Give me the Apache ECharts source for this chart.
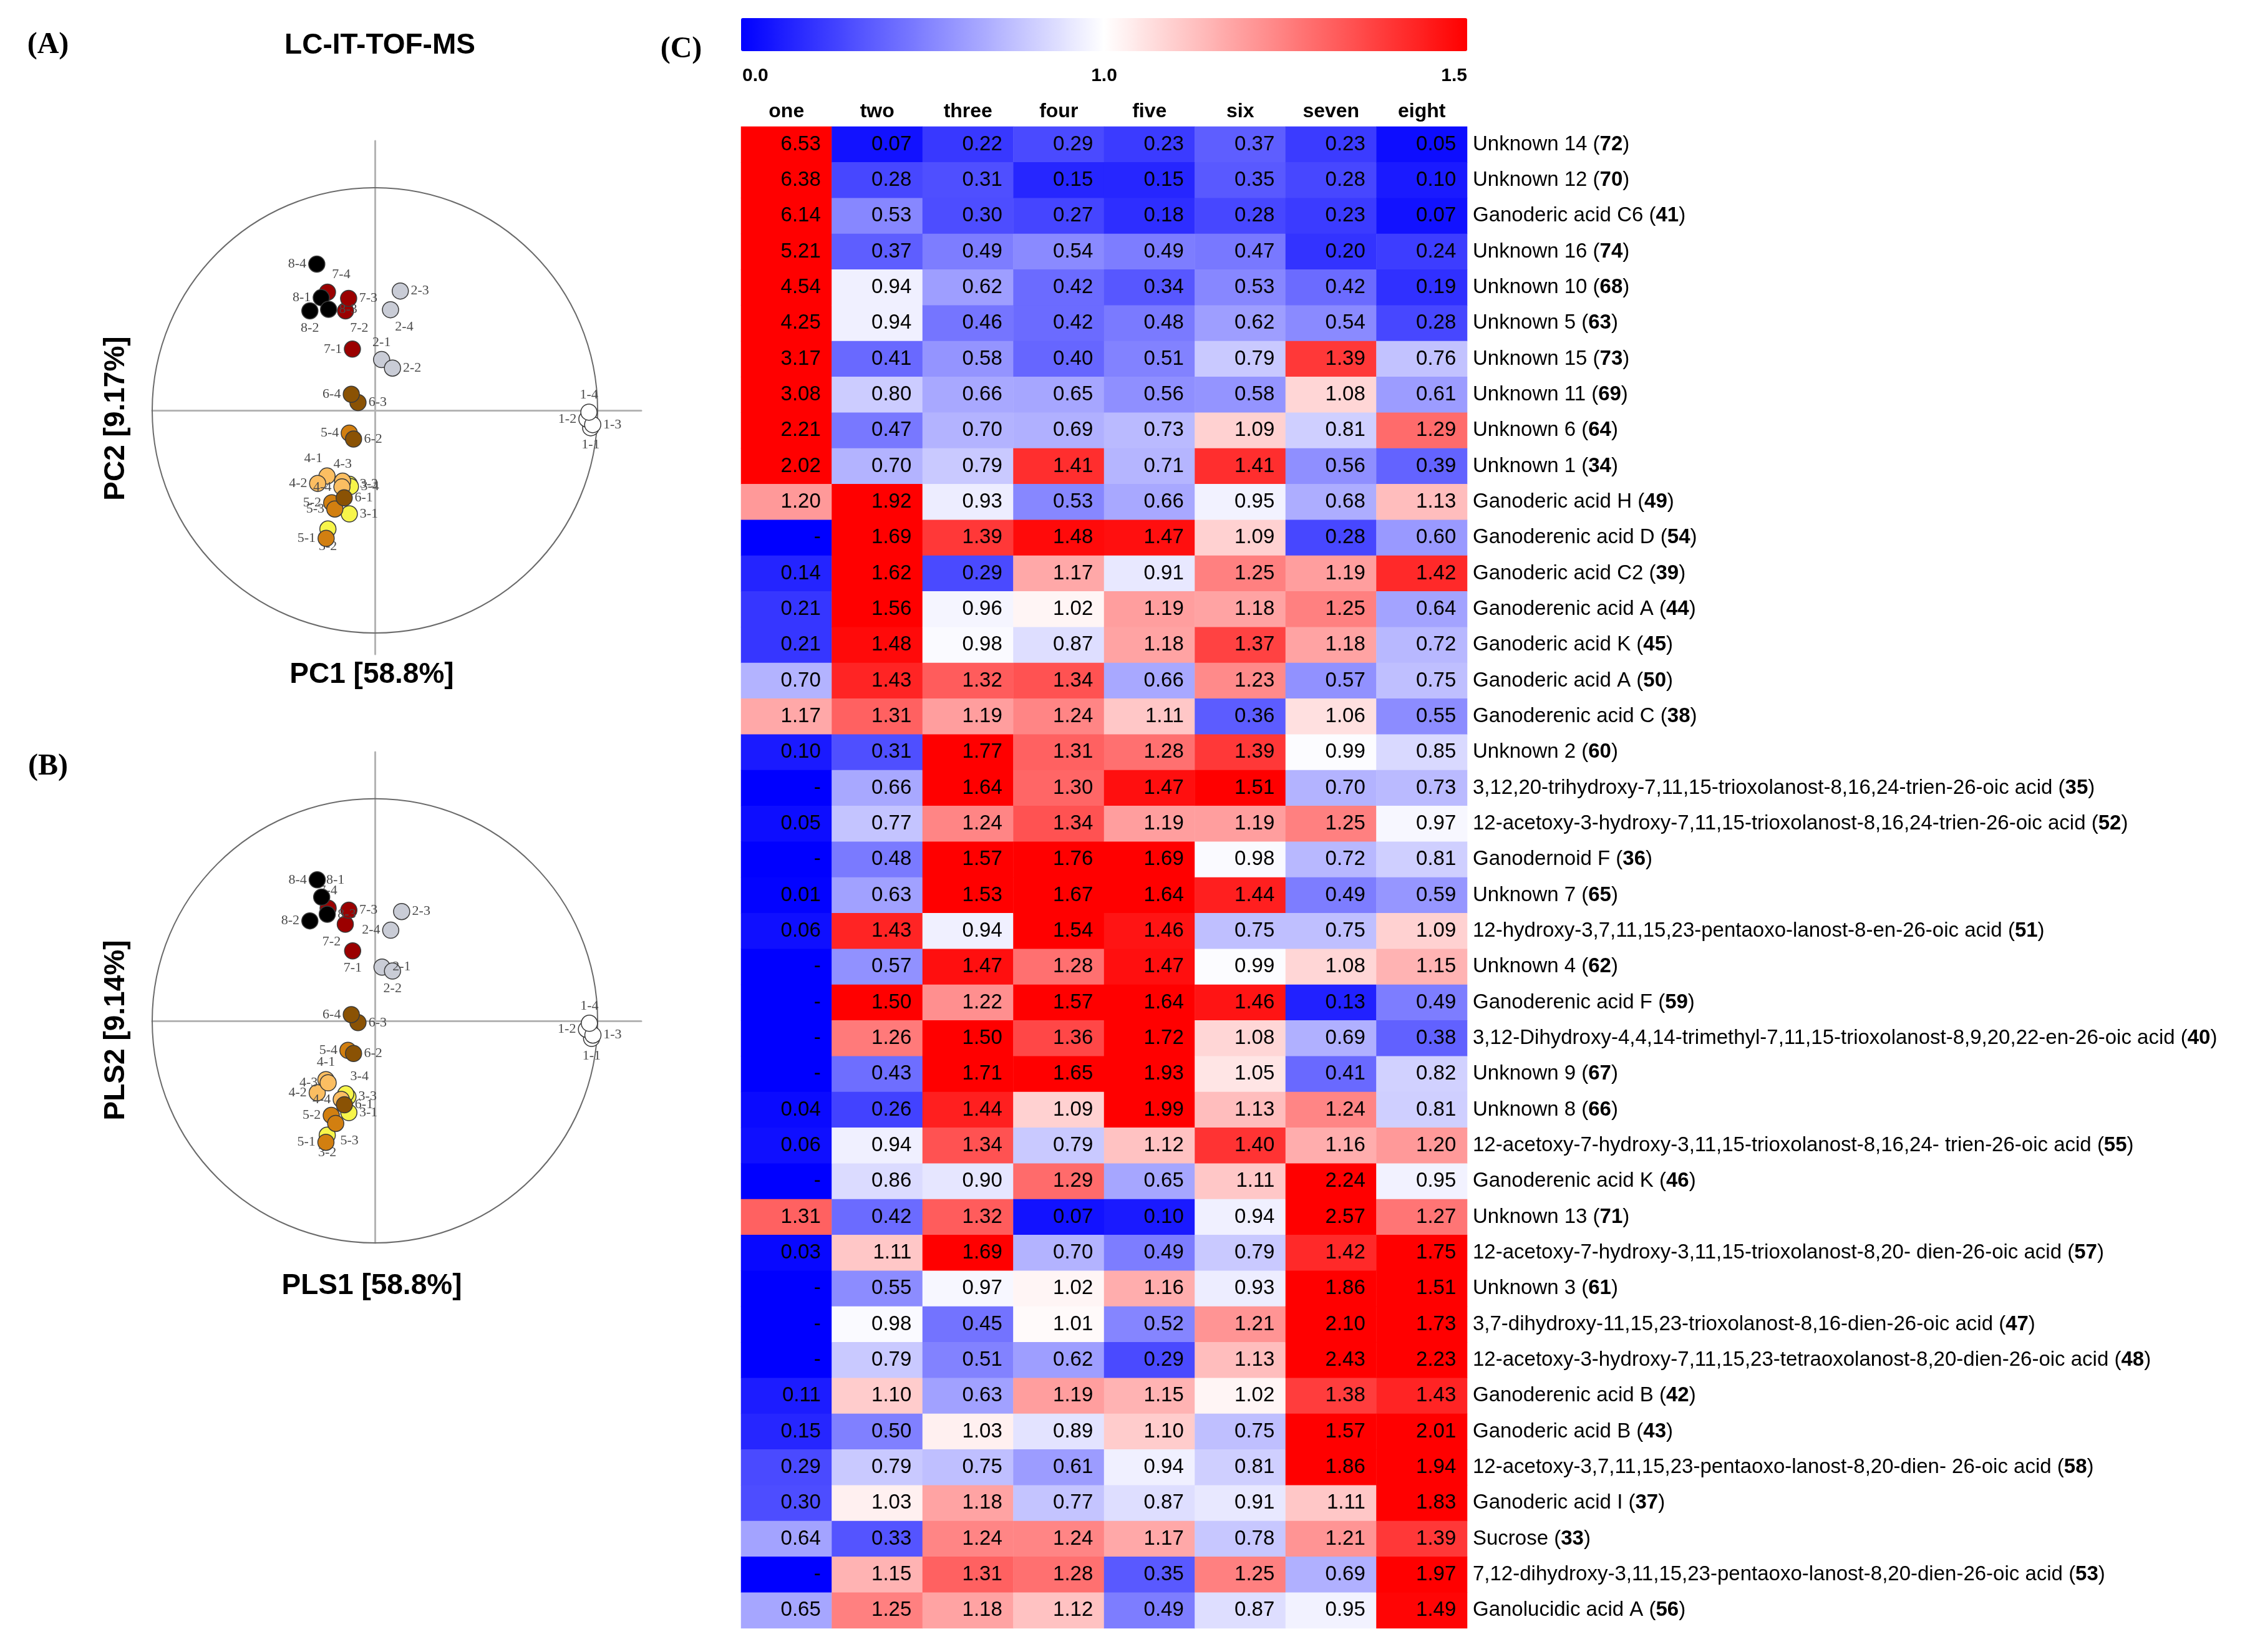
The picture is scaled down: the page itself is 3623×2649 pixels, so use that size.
<!DOCTYPE html>
<html>
<head>
<meta charset="utf-8">
<script src="https://cdn.jsdelivr.net/npm/echarts@6/dist/echarts.min.js"></script>
<style>html,body{margin:0;padding:0;background:#fff}#c{width:3623px;height:2649px}</style>
</head>
<body>
<div id="c"></div>
<script>
// ---------------- DATA ----------------
const colNames = ['one','two','three','four','five','six','seven','eight'];
const rowNames = [
 'Unknown 14','Unknown 12','Ganoderic acid C6','Unknown 16','Unknown 10','Unknown 5','Unknown 15','Unknown 11','Unknown 6','Unknown 1',
 'Ganoderic acid H','Ganoderenic acid D','Ganoderic acid C2','Ganoderenic acid A','Ganoderic acid K','Ganoderic acid A','Ganoderenic acid C','Unknown 2',
 '3,12,20-trihydroxy-7,11,15-trioxolanost-8,16,24-trien-26-oic acid',
 '12-acetoxy-3-hydroxy-7,11,15-trioxolanost-8,16,24-trien-26-oic acid',
 'Ganodernoid F','Unknown 7',
 '12-hydroxy-3,7,11,15,23-pentaoxo-lanost-8-en-26-oic acid',
 'Unknown 4','Ganoderenic acid F',
 '3,12-Dihydroxy-4,4,14-trimethyl-7,11,15-trioxolanost-8,9,20,22-en-26-oic acid',
 'Unknown 9','Unknown 8',
 '12-acetoxy-7-hydroxy-3,11,15-trioxolanost-8,16,24- trien-26-oic acid',
 'Ganoderenic acid K','Unknown 13',
 '12-acetoxy-7-hydroxy-3,11,15-trioxolanost-8,20- dien-26-oic acid',
 'Unknown 3',
 '3,7-dihydroxy-11,15,23-trioxolanost-8,16-dien-26-oic acid',
 '12-acetoxy-3-hydroxy-7,11,15,23-tetraoxolanost-8,20-dien-26-oic acid',
 'Ganoderenic acid B','Ganoderic acid B',
 '12-acetoxy-3,7,11,15,23-pentaoxo-lanost-8,20-dien- 26-oic acid',
 'Ganoderic acid I','Sucrose',
 '7,12-dihydroxy-3,11,15,23-pentaoxo-lanost-8,20-dien-26-oic acid',
 'Ganolucidic acid A'
];
const rowIds = [72,70,41,74,68,63,73,69,64,34,49,54,39,44,45,50,38,60,35,52,36,65,51,62,59,40,67,66,55,46,71,57,61,47,48,42,43,58,37,33,53,56];

const colOne   = [6.53,6.38,6.14,5.21,4.54,4.25,3.17,3.08,2.21,2.02,1.20,null,0.14,0.21,0.21,0.70,1.17,0.10,null,0.05,null,0.01,0.06,null,null,null,null,0.04,0.06,null,1.31,0.03,null,null,null,0.11,0.15,0.29,0.30,0.64,null,0.65];
const colTwo   = [0.07,0.28,0.53,0.37,0.94,0.94,0.41,0.80,0.47,0.70,1.92,1.69,1.62,1.56,1.48,1.43,1.31,0.31,0.66,0.77,0.48,0.63,1.43,0.57,1.50,1.26,0.43,0.26,0.94,0.86,0.42,1.11,0.55,0.98,0.79,1.10,0.50,0.79,1.03,0.33,1.15,1.25];
const colThree = [0.22,0.31,0.30,0.49,0.62,0.46,0.58,0.66,0.70,0.79,0.93,1.39,0.29,0.96,0.98,1.32,1.19,1.77,1.64,1.24,1.57,1.53,0.94,1.47,1.22,1.50,1.71,1.44,1.34,0.90,1.32,1.69,0.97,0.45,0.51,0.63,1.03,0.75,1.18,1.24,1.31,1.18];
const colFour  = [0.29,0.15,0.27,0.54,0.42,0.42,0.40,0.65,0.69,1.41,0.53,1.48,1.17,1.02,0.87,1.34,1.24,1.31,1.30,1.34,1.76,1.67,1.54,1.28,1.57,1.36,1.65,1.09,0.79,1.29,0.07,0.70,1.02,1.01,0.62,1.19,0.89,0.61,0.77,1.24,1.28,1.12];
const colFive  = [0.23,0.15,0.18,0.49,0.34,0.48,0.51,0.56,0.73,0.71,0.66,1.47,0.91,1.19,1.18,0.66,1.11,1.28,1.47,1.19,1.69,1.64,1.46,1.47,1.64,1.72,1.93,1.99,1.12,0.65,0.10,0.49,1.16,0.52,0.29,1.15,1.10,0.94,0.87,1.17,0.35,0.49];
const colSix   = [0.37,0.35,0.28,0.47,0.53,0.62,0.79,0.58,1.09,1.41,0.95,1.09,1.25,1.18,1.37,1.23,0.36,1.39,1.51,1.19,0.98,1.44,0.75,0.99,1.46,1.08,1.05,1.13,1.40,1.11,0.94,0.79,0.93,1.21,1.13,1.02,0.75,0.81,0.91,0.78,1.25,0.87];
const colSeven = [0.23,0.28,0.23,0.20,0.42,0.54,1.39,1.08,0.81,0.56,0.68,0.28,1.19,1.25,1.18,0.57,1.06,0.99,0.70,1.25,0.72,0.49,0.75,1.08,0.13,0.69,0.41,1.24,1.16,2.24,2.57,1.42,1.86,2.10,2.43,1.38,1.57,1.86,1.11,1.21,0.69,0.95];
const colEight = [0.05,0.10,0.07,0.24,0.19,0.28,0.76,0.61,1.29,0.39,1.13,0.60,1.42,0.64,0.72,0.75,0.55,0.85,0.73,0.97,0.81,0.59,1.09,1.15,0.49,0.38,0.82,0.81,1.20,0.95,1.27,1.75,1.51,1.73,2.23,1.43,2.01,1.94,1.83,1.39,1.97,1.49];

const colorbarTicks = ['0.0','1.0','1.5'];

const sampleIds = ['1-1','1-2','1-3','1-4','2-1','2-2','2-3','2-4','3-1','3-2','3-3','3-4','4-1','4-2','4-3','4-4',
                   '5-1','5-2','5-3','5-4','6-1','6-2','6-3','6-4','7-1','7-2','7-3','7-4','8-1','8-2','8-3','8-4'];
const pcaX = [0.969,0.952,0.978,0.961, 0.030,0.079,0.114,0.070, -0.115,-0.211,-0.115,-0.110, -0.215,-0.257,-0.145,-0.148,
              -0.219,-0.194,-0.180,-0.115, -0.138,-0.096,-0.076,-0.106, -0.101,-0.132,-0.118,-0.213, -0.241,-0.292,-0.208,-0.261];
const pcaY = [-0.078,-0.039,-0.064,-0.008, 0.228,0.190,0.536,0.452, -0.465,-0.533,-0.332,-0.342, -0.295,-0.328,-0.318,-0.344,
              -0.575,-0.415,-0.443,-0.102, -0.393,-0.129,0.035,0.072, 0.275,0.447,0.503,0.531, 0.506,0.447,0.454,0.657];
const plsX = [0.973,0.950,0.979,0.963, 0.032,0.079,0.120,0.071, -0.117,-0.214,-0.121,-0.131, -0.220,-0.259,-0.210,-0.151,
              -0.220,-0.196,-0.176,-0.121, -0.137,-0.096,-0.076,-0.106, -0.100,-0.133,-0.117,-0.210, -0.239,-0.292,-0.214,-0.259];
const plsY = [-0.079,-0.038,-0.064,-0.011, 0.242,0.224,0.492,0.408, -0.413,-0.515,-0.342,-0.329, -0.265,-0.324,-0.279,-0.354,
              -0.547,-0.426,-0.462,-0.133, -0.378,-0.147,-0.008,0.028, 0.315,0.435,0.498,0.507, 0.557,0.450,0.480,0.635];

// ---------------- STYLE ----------------
const groupColors = ['#ffffff','#c9ccd6','#f7f54a','#fbbe62','#d27f10','#8a5204','#9b0000','#000000'];
const labelPosA = {'1-1':'bottom','1-2':'left','1-3':'right','1-4':'top','2-1':'top','2-2':'right','2-3':'right','2-4':'bottomRight',
  '3-1':'right','3-2':'bottom','3-3':'right','3-4':'right','4-1':'topLeft','4-2':'left','4-3':'top','4-4':'left',
  '5-1':'left','5-2':'left','5-3':'left','5-4':'left','6-1':'right','6-2':'right','6-3':'right','6-4':'left',
  '7-1':'left','7-2':'bottomRight','7-3':'right','7-4':'topRight','8-1':'left','8-2':'bottom','8-3':'right','8-4':'left'};
const labelPosB = {'1-1':'bottom','1-2':'left','1-3':'right','1-4':'top','2-1':'right','2-2':'bottom','2-3':'right','2-4':'left',
  '3-1':'right','3-2':'bottom','3-3':'right','3-4':'topRight','4-1':'top','4-2':'left','4-3':'left','4-4':'left',
  '5-1':'left','5-2':'left','5-3':'bottomRight','5-4':'left','6-1':'right','6-2':'right','6-3':'right','6-4':'left',
  '7-1':'bottom','7-2':'bottomLeft','7-3':'right','7-4':'top','8-1':'topRight','8-2':'left','8-3':'right','8-4':'left'};

const SANS = "'Liberation Sans', Arial, sans-serif";
const SERIF = "'Liberation Serif', 'Times New Roman', serif";

function labelCfg(p) {
  const m = {left:['left',[0,0]], right:['right',[0,0]], top:['top',[0,0]], bottom:['bottom',[0,0]],
             topLeft:['top',[-22,0]], topRight:['top',[22,0]], bottomLeft:['bottom',[-22,0]], bottomRight:['bottom',[22,0]]}[p];
  return {position: m[0], offset: m[1]};
}

function scatterSeries(xs, ys, pos, gridIdx) {
  const out = [];
  for (let g = 0; g < 8; g++) {
    const data = [];
    sampleIds.forEach((id, i) => {
      if (id.charAt(0) === String(g + 1)) {
        const lc = labelCfg(pos[id]);
        data.push({value: [xs[i], ys[i]], name: id, label: {position: lc.position, offset: lc.offset}});
      }
    });
    out.push({
      type: 'scatter', xAxisIndex: gridIdx, yAxisIndex: gridIdx, symbolSize: 26, z: 3 + g,
      data: data,
      itemStyle: {color: groupColors[g], borderColor: '#3a3a3a', borderWidth: 1.5, opacity: 1},
      label: {show: true, formatter: p => p.name, fontFamily: SERIF, fontSize: 22, color: '#4a4a4a', distance: 3},
      emphasis: {disabled: true}, silent: true
    });
  }
  return out;
}

function circleSeries(gridIdx) {
  return {
    type: 'custom', xAxisIndex: gridIdx, yAxisIndex: gridIdx, z: 2, silent: true,
    data: [[0, 0]],
    renderItem: function (params, api) {
      const c = api.coord([0, 0]);
      const rx = api.size([1, 0])[0];
      const ry = api.size([0, 1])[1];
      return {type: 'ellipse', shape: {cx: c[0], cy: c[1], rx: rx, ry: ry},
              style: {fill: 'none', stroke: '#6a6a6a', lineWidth: 2}};
    }
  };
}

const cols = [colOne, colTwo, colThree, colFour, colFive, colSix, colSeven, colEight];
const heatData = [];
cols.forEach((arr, c) => arr.forEach((v, r) => {
  // colour position: 0..1 -> 0..1, 1..1.5 -> 1..2 (colour bar has 1.0 at its middle)
  let t = v == null ? 0 : (v <= 1 ? v : 1 + 2 * (v - 1));
  t = Math.max(0, Math.min(2, t));
  heatData.push([c, r, t, v]);
}));

const valAxis = (g, min, max) => ({
  type: 'value', gridIndex: g, min: min, max: max,
  axisLine: {show: true, onZero: true, lineStyle: {color: '#b4b4b4', width: 3}},
  axisTick: {show: false}, axisLabel: {show: false}, splitLine: {show: false}
});

const series = [
  circleSeries(0), ...scatterSeries(pcaX, pcaY, labelPosA, 0),
  circleSeries(1), ...scatterSeries(plsX, plsY, labelPosB, 1),
];
const heatIndex = series.length;
series.push({
  type: 'heatmap', xAxisIndex: 2, yAxisIndex: 2, data: heatData,
  itemStyle: {borderWidth: 0},
  label: {show: true, position: 'insideRight', distance: 18, fontFamily: SANS, fontSize: 33, color: '#000',
          formatter: p => p.data[3] == null ? '-' : p.data[3].toFixed(2)},
  emphasis: {disabled: true}, silent: true
});

const txt = (x, y, s, size, family, extra) => Object.assign({
  type: 'text', x: x, y: y,
  style: {text: s, font: 'bold ' + size + 'px ' + family, fill: '#000', align: 'center', verticalAlign: 'middle'}
}, extra || {});

const option = {
  backgroundColor: '#ffffff',
  animation: false,
  grid: [
    {left: 244, top: 226, width: 784, height: 823},
    {left: 244, top: 1206, width: 784, height: 787},
    {left: 1188, top: 203, width: 1164, height: 2408}
  ],
  xAxis: [
    valAxis(0, -1, 1.196),
    valAxis(1, -1, 1.196),
    {type: 'category', gridIndex: 2, data: colNames, position: 'top',
     axisLine: {show: false}, axisTick: {show: false}, splitLine: {show: false},
     axisLabel: {fontFamily: SANS, fontWeight: 'bold', fontSize: 32, color: '#000', margin: 8, interval: 0}}
  ],
  yAxis: [
    valAxis(0, -1.095, 1.21),
    valAxis(1, -1.0, 1.21),
    {type: 'category', gridIndex: 2, data: rowNames, inverse: true, position: 'right',
     axisLine: {show: false}, axisTick: {show: false}, splitLine: {show: false},
     axisLabel: {interval: 0, margin: 9, align: 'left',
       formatter: (val, idx) => '{n|' + val + ' (}{b|' + rowIds[idx] + '}{n|)}',
       rich: {n: {fontFamily: SANS, fontSize: 33, color: '#000'},
              b: {fontFamily: SANS, fontSize: 33, color: '#000', fontWeight: 'bold'}}}}
  ],
  visualMap: {
    type: 'continuous', min: 0, max: 2, dimension: 2, seriesIndex: heatIndex,
    orient: 'horizontal', left: 1188, top: 29, itemWidth: 53, itemHeight: 1164, padding: 0,
    calculable: false, hoverLink: false, text: null,
    inRange: {color: ['#0000ff', '#ffffff', '#ff0000']}
  },
  graphic: [
    txt(77, 73, '(A)', 48, SERIF),
    txt(609, 73, 'LC-IT-TOF-MS', 46, SANS),
    txt(186, 671, 'PC2 [9.17%]', 46, SANS, {rotation: Math.PI / 2}),
    txt(596, 1082, 'PC1 [58.8%]', 46, SANS),
    txt(77, 1230, '(B)', 48, SERIF),
    txt(186, 1652, 'PLS2 [9.14%]', 46, SANS, {rotation: Math.PI / 2}),
    txt(596, 2062, 'PLS1 [58.8%]', 46, SANS),
    txt(1092, 80, '(C)', 48, SERIF),
    {type: 'text', x: 1190, y: 122, style: {text: colorbarTicks[0], font: 'bold 30px ' + SANS, fill: '#000', align: 'left', verticalAlign: 'middle'}},
    {type: 'text', x: 1770, y: 122, style: {text: colorbarTicks[1], font: 'bold 30px ' + SANS, fill: '#000', align: 'center', verticalAlign: 'middle'}},
    {type: 'text', x: 2352, y: 122, style: {text: colorbarTicks[2], font: 'bold 30px ' + SANS, fill: '#000', align: 'right', verticalAlign: 'middle'}}
  ],
  series: series
};

const chart = echarts.init(document.getElementById('c'), null, {renderer: 'canvas'});
chart.setOption(option);
</script>
</body>
</html>
